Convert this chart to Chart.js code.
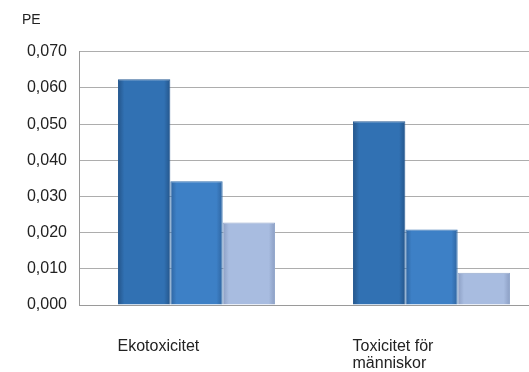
<!DOCTYPE html>
<html>
<head>
<meta charset="utf-8">
<script src="https://cdn.jsdelivr.net/npm/chart.js@4/dist/chart.umd.min.js"></script>
<style>
  html, body { margin: 0; padding: 0; background: #fff; overflow: hidden; }
  canvas { display: block; }
</style>
</head>
<body>
<canvas id="pe" width="560" height="372"></canvas>
<script>
const categories = ['Ekotoxicitet', ['Toxicitet för', 'människor']]
const serieA = [0.0624, 0.0508]
const serieB = [0.0342, 0.0209]
const serieC = [0.0228, 0.0089]
const yTickLabels = ['0,000', '0,010', '0,020', '0,030', '0,040', '0,050', '0,060', '0,070']

const font = 'Liberation Sans, Arial, sans-serif'

// left/right shading so the bars look a bit rounded
function shaded (mid, edge) {
  return (ctx) => {
    const chart = ctx.chart
    const x = chart.scales.x
    if (!x || ctx.dataIndex === undefined) return mid
    const cat = x.width / categories.length
    const w = cat * 0.668 / 3
    const c = x.getPixelForValue(ctx.dataIndex) + (ctx.datasetIndex - 1) * w
    if (!isFinite(c) || !isFinite(w) || w <= 0) return mid
    const g = chart.ctx.createLinearGradient(c - w / 2, 0, c + w / 2, 0)
    g.addColorStop(0, edge)
    g.addColorStop(0.12, mid)
    g.addColorStop(0.88, mid)
    g.addColorStop(1, edge)
    return g
  }
}

new Chart(document.getElementById('pe').getContext('2d'), {
  type: 'bar',
  data: {
    labels: categories,
    datasets: [
      { data: serieA, backgroundColor: shaded('#3171b3', '#24558a'), borderColor: '#2a5d95', borderWidth: 1 },
      { data: serieB, backgroundColor: shaded('#3d80c6', '#2e64a0'), borderColor: '#3470ae', borderWidth: 1 },
      { data: serieC, backgroundColor: shaded('#a8bce0', '#8b9ec3'), borderColor: '#94a8cc', borderWidth: 1 }
    ]
  },
  options: {
    responsive: false,
    animation: false,
    layout: { padding: { left: 22, right: 11, top: 0, bottom: 0 } },
    datasets: { bar: { categoryPercentage: 0.668, barPercentage: 1 } },
    plugins: {
      legend: { display: false },
      tooltip: { enabled: false },
      title: {
        display: true,
        text: 'PE',
        align: 'start',
        color: '#222',
        font: { family: font, size: 14, weight: 'normal', lineHeight: 1.2 },
        padding: { top: 12, bottom: 23 }
      }
    },
    scales: {
      x: {
        grid: { display: false },
        border: { display: true, color: '#9a9a9a', width: 1 },
        afterFit: (s) => { s.height = 67 },
        ticks: {
          color: '#222',
          font: { family: font, size: 16, lineHeight: 1.06 },
          align: 'start',
          labelOffset: -79,
          padding: 25,
          maxRotation: 0,
          autoSkip: false
        }
      },
      y: {
        min: 0,
        max: 0.07,
        afterFit: (s) => { s.width = 57 },
        grid: { color: '#adadad', lineWidth: 1, drawTicks: false },
        border: { display: true, color: '#9a9a9a', width: 1 },
        ticks: {
          stepSize: 0.01,
          color: '#222',
          padding: 12,
          font: { family: font, size: 16 },
          callback: (v, i) => yTickLabels[i]
        }
      }
    }
  }
})
</script>
</body>
</html>
